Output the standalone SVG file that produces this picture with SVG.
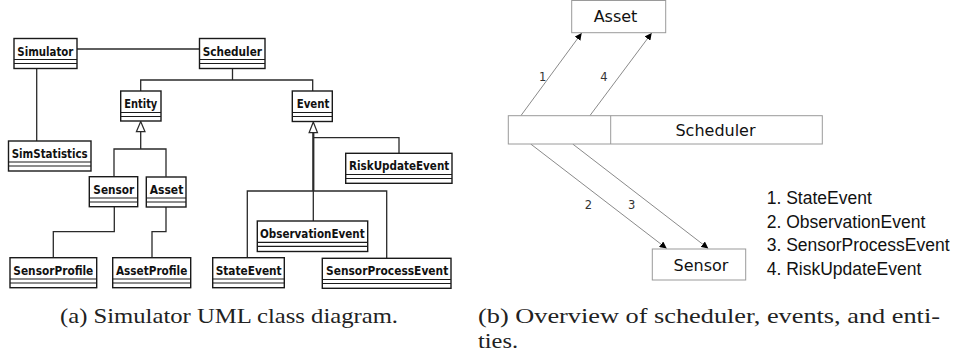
<svg xmlns="http://www.w3.org/2000/svg" width="955" height="358" viewBox="0 0 955 358">
  <style>
    .cls rect { fill: #fff; stroke: #1a1a1a; stroke-width: 1.4; }
    .cls line { stroke: #1a1a1a; stroke-width: 1.2; }
    .cls text { font-family: "DejaVu Sans Condensed", "DejaVu Sans", sans-serif; font-weight: bold; font-size: 12.5px; fill: #111; }
    .uml path, .uml line { fill: none; stroke: #2a2a2a; stroke-width: 1.3; }
    .uml .tri { fill: #fff; stroke: #2a2a2a; stroke-width: 1.2; }
    .obj rect { fill: #fff; stroke: #9a9a9a; stroke-width: 1; }
    .obj text { font-family: "DejaVu Sans", sans-serif; font-size: 16px; fill: #111; text-anchor: middle; }
    .msg line { stroke: #8a8a8a; stroke-width: 1; marker-end: url(#head); }
    .num { font-family: "DejaVu Sans", sans-serif; font-size: 11.5px; fill: #333; text-anchor: middle; }
    .legend text { font-family: "Liberation Sans", Arial, sans-serif; font-size: 17.5px; fill: #111; }
    .cap { font-family: "Liberation Serif", "Times New Roman", serif; font-size: 22px; fill: #222; }
  </style>
  <defs>
    <marker id="head" viewBox="0 0 10 10" refX="10" refY="5" markerWidth="7" markerHeight="7" markerUnits="userSpaceOnUse" orient="auto">
      <path d="M0,0 L10,5 L0,10 z" fill="#000"/>
    </marker>
  </defs>

  <rect width="955" height="358" fill="#fff"/>

  <!-- (a) class diagram: associations and generalizations -->
  <g id="uml-connectors" class="uml">
    <line x1="77" y1="49" x2="199.5" y2="49"/>
    <line x1="36.7" y1="68.5" x2="36.7" y2="141"/>
    <path d="M232.5,68.5 V80 M140.7,91 V80 H312.7 V91"/>
    <!-- Entity subclasses -->
    <path class="tri" d="M140.7,121.5 L145,131.7 L136.4,131.7 Z"/>
    <path d="M140.7,131.7 V149 M114,176.7 V149 H166 V176.7"/>
    <path d="M114.3,206.7 V231.7 H53.3 V257.7"/>
    <path d="M166,207 V231.7 H152 V257.7"/>
    <!-- Event subclasses -->
    <path class="tri" d="M313.3,122 L317.5,132.7 L309.1,132.7 Z"/>
    <line x1="313.3" y1="132.7" x2="313.3" y2="191" style="stroke-width:2.2"/>
    <path d="M313.3,191 V221 M313.3,137.7 H399 V153.3 M247.3,257.7 V191 H386.7 V258.3"/>
  </g>

  <g id="Simulator" class="cls">
    <rect x="14" y="38.5" width="63" height="30"/>
    <line x1="14" y1="59.5" x2="77" y2="59.5"/><line x1="14" y1="63.5" x2="77" y2="63.5"/>
    <text x="17.3" y="55.5" textLength="56" lengthAdjust="spacingAndGlyphs">Simulator</text>
  </g>
  <g id="Scheduler" class="cls">
    <rect x="199.5" y="38.5" width="65.5" height="30"/>
    <line x1="199.5" y1="59.5" x2="265" y2="59.5"/><line x1="199.5" y1="63.5" x2="265" y2="63.5"/>
    <text x="202.7" y="55.5" textLength="59.3" lengthAdjust="spacingAndGlyphs">Scheduler</text>
  </g>
  <g id="SimStatistics" class="cls">
    <rect x="8.5" y="141" width="82.5" height="30"/>
    <line x1="8.5" y1="162" x2="91" y2="162"/><line x1="8.5" y1="166" x2="91" y2="166"/>
    <text x="11.7" y="158" textLength="76" lengthAdjust="spacingAndGlyphs">SimStatistics</text>
  </g>
  <g id="Entity" class="cls">
    <rect x="120.7" y="91" width="40.3" height="30"/>
    <line x1="120.7" y1="112.5" x2="161" y2="112.5"/><line x1="120.7" y1="116.5" x2="161" y2="116.5"/>
    <text x="124.3" y="108" textLength="33" lengthAdjust="spacingAndGlyphs">Entity</text>
  </g>
  <g id="Event" class="cls">
    <rect x="292.3" y="91" width="40" height="30.5"/>
    <line x1="292.3" y1="112.5" x2="332.3" y2="112.5"/><line x1="292.3" y1="116.5" x2="332.3" y2="116.5"/>
    <text x="296.7" y="108" textLength="32.7" lengthAdjust="spacingAndGlyphs">Event</text>
  </g>
  <g id="RiskUpdateEvent" class="cls">
    <rect x="345.7" y="153.3" width="106.3" height="30"/>
    <line x1="345.7" y1="174.5" x2="452" y2="174.5"/><line x1="345.7" y1="178.5" x2="452" y2="178.5"/>
    <text x="349" y="170.3" textLength="100.3" lengthAdjust="spacingAndGlyphs">RiskUpdateEvent</text>
  </g>
  <g id="Sensor" class="cls">
    <rect x="89.3" y="176.7" width="48.4" height="30"/>
    <line x1="89.3" y1="198" x2="137.7" y2="198"/><line x1="89.3" y1="202" x2="137.7" y2="202"/>
    <text x="93.3" y="193.7" textLength="41" lengthAdjust="spacingAndGlyphs">Sensor</text>
  </g>
  <g id="Asset" class="cls">
    <rect x="146.3" y="177" width="39.7" height="30"/>
    <line x1="146.3" y1="198" x2="186" y2="198"/><line x1="146.3" y1="202" x2="186" y2="202"/>
    <text x="149.7" y="193.7" textLength="33.6" lengthAdjust="spacingAndGlyphs">Asset</text>
  </g>
  <g id="ObservationEvent" class="cls">
    <rect x="257.3" y="221" width="110.4" height="30.5"/>
    <line x1="257.3" y1="242.3" x2="367.7" y2="242.3"/><line x1="257.3" y1="246.3" x2="367.7" y2="246.3"/>
    <text x="260" y="238" textLength="104.7" lengthAdjust="spacingAndGlyphs">ObservationEvent</text>
  </g>
  <g id="SensorProfile" class="cls">
    <rect x="10" y="257.7" width="86.7" height="30"/>
    <line x1="10" y1="279" x2="96.7" y2="279"/><line x1="10" y1="283" x2="96.7" y2="283"/>
    <text x="13.3" y="274.7" textLength="80" lengthAdjust="spacingAndGlyphs">SensorProfile</text>
  </g>
  <g id="AssetProfile" class="cls">
    <rect x="112.7" y="257.7" width="78" height="30"/>
    <line x1="112.7" y1="279" x2="190.7" y2="279"/><line x1="112.7" y1="283" x2="190.7" y2="283"/>
    <text x="116" y="274.7" textLength="71.3" lengthAdjust="spacingAndGlyphs">AssetProfile</text>
  </g>
  <g id="StateEvent" class="cls">
    <rect x="212.7" y="257.7" width="71.6" height="30"/>
    <line x1="212.7" y1="279" x2="284.3" y2="279"/><line x1="212.7" y1="283" x2="284.3" y2="283"/>
    <text x="215.7" y="274.7" textLength="66" lengthAdjust="spacingAndGlyphs">StateEvent</text>
  </g>
  <g id="SensorProcessEvent" class="cls">
    <rect x="322.3" y="258.3" width="128.7" height="30"/>
    <line x1="322.3" y1="279.5" x2="451" y2="279.5"/><line x1="322.3" y1="283.5" x2="451" y2="283.5"/>
    <text x="326" y="275.2" textLength="122.3" lengthAdjust="spacingAndGlyphs">SensorProcessEvent</text>
  </g>

  <!-- (b) event flow between scheduler and entities -->
  <g id="flow-connectors" class="msg">
    <line x1="521" y1="115.5" x2="581.7" y2="33"/>
    <line x1="590" y1="115.5" x2="651.7" y2="33"/>
    <line x1="530.7" y1="144" x2="666.7" y2="248.5"/>
    <line x1="572.7" y1="144" x2="708.3" y2="248.5"/>
  </g>
  <g id="flow-labels">
    <text class="num" x="542.7" y="80.5">1</text>
    <text class="num" x="604" y="80.5">4</text>
    <text class="num" x="588.3" y="209">2</text>
    <text class="num" x="631.7" y="209">3</text>
  </g>
  <g id="AssetObj" class="obj">
    <rect x="571.7" y="0.5" width="94" height="32.2"/>
    <text x="615.5" y="22">Asset</text>
  </g>
  <g id="SchedulerObj" class="obj">
    <rect x="508.3" y="115.7" width="314" height="28.3"/>
    <line x1="610.7" y1="115.7" x2="610.7" y2="144" stroke="#9a9a9a" stroke-width="1"/>
    <text x="715.5" y="136">Scheduler</text>
  </g>
  <g id="SensorObj" class="obj">
    <rect x="652.3" y="249" width="93.4" height="31"/>
    <text x="701" y="271">Sensor</text>
  </g>
  <g id="legend" class="legend">
    <text x="766.7" y="204.3">1. StateEvent</text>
    <text x="766.7" y="227.8">2. ObservationEvent</text>
    <text x="766.7" y="251.3">3. SensorProcessEvent</text>
    <text x="766.7" y="274.8">4. RiskUpdateEvent</text>
  </g>

  <g id="captions">
    <text class="cap" x="60" y="323" textLength="338" lengthAdjust="spacingAndGlyphs">(a) Simulator UML class diagram.</text>
    <text class="cap" x="478" y="323" textLength="462" lengthAdjust="spacingAndGlyphs">(b) Overview of scheduler, events, and enti-</text>
    <text class="cap" x="478" y="348" textLength="40" lengthAdjust="spacingAndGlyphs">ties.</text>
  </g>
</svg>
